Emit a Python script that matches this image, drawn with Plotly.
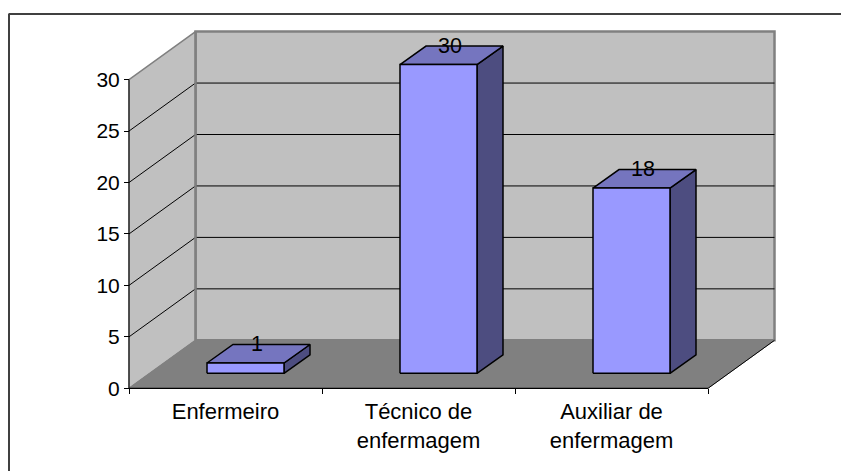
import plotly.graph_objects as go

categories = ["Enfermeiro", "Técnico de<br>enfermagem", "Auxiliar de<br>enfermagem"]
values = [1, 30, 18]
y_ticks = [0, 5, 10, 15, 20, 25, 30]

W, H = 841, 471
# pixel scale of the axes
PX_CAT = 193.0
PX_UNIT = 10.29
X0_PX, Y0_PX = 129.0, 388.3

# oblique projection, expressed in axis units
WALL_DX = 66.5 / PX_CAT
WALL_DY = 48.0 / PX_UNIT
BAR_DX = 26.0 / PX_CAT
BAR_DY = 18.5 / PX_UNIT
BAR_OFF_X = 78.0 / PX_CAT
BAR_OFF_Y = 15.0 / PX_UNIT
BAR_W = 77.0 / PX_CAT

WALL = "#C0C0C0"
FLOOR = "#808080"
FRONT = "#9999FF"
TOP = "#7575BF"
SIDE = "#4D4D80"
FONT = "Liberation Sans, Arial, sans-serif"

fig = go.Figure()


def poly(xs, ys, fill=None, line="black", width=1.0):
    fig.add_trace(go.Scatter(
        x=xs, y=ys, mode="lines",
        fill="toself" if fill else None, fillcolor=fill,
        line=dict(color=line, width=width),
        hoverinfo="skip", showlegend=False))


xmax = len(values)
ymax = max(y_ticks)

# back wall, side wall and floor
poly([WALL_DX, xmax + WALL_DX, xmax + WALL_DX, WALL_DX, WALL_DX],
     [WALL_DY, WALL_DY, ymax + WALL_DY, ymax + WALL_DY, WALL_DY], WALL, FLOOR, 2.5)
poly([0, WALL_DX, WALL_DX, 0, 0], [0, WALL_DY, ymax + WALL_DY, ymax, 0], WALL, FLOOR, 1.5)
poly([0, xmax, xmax + WALL_DX, WALL_DX, 0], [0, 0, WALL_DY, WALL_DY, 0], FLOOR, FLOOR, 1)
poly([xmax, xmax + WALL_DX], [0, WALL_DY], None, "black", 1)

# gridlines across both walls
for t in y_ticks[1:-1]:
    poly([0, WALL_DX, xmax + WALL_DX], [t, t + WALL_DY, t + WALL_DY], None, "black", 1)

# redraw the wall's inner edge above the gridlines
poly([WALL_DX, WALL_DX], [WALL_DY, ymax + WALL_DY], None, FLOOR, 2.5)

# axis lines
poly([0, 0], [0, ymax], None, "black", 1)
poly([0, xmax], [0, 0], None, "black", 1.2)

# bars as oblique boxes
for i, v in enumerate(values):
    x1 = i + BAR_OFF_X
    x2 = x1 + BAR_W
    y1 = BAR_OFF_Y
    y2 = y1 + v
    poly([x2, x2 + BAR_DX, x2 + BAR_DX, x2, x2], [y1, y1 + BAR_DY, y2 + BAR_DY, y2, y1], SIDE, "black", 1.5)
    poly([x1, x1 + BAR_DX, x2 + BAR_DX, x2, x1], [y2, y2 + BAR_DY, y2 + BAR_DY, y2, y2], TOP, "black", 1.5)
    poly([x1, x2, x2, x1, x1], [y1, y1, y2, y2, y1], FRONT, "black", 1.5)

# value labels sit over the bar tops
fig.add_trace(go.Scatter(
    x=[i + BAR_OFF_X + BAR_W / 2 + BAR_DX / 2 - 1.5 / PX_CAT for i in range(len(values))],
    y=[v + BAR_OFF_Y + BAR_DY - 0.1 for v in values],
    mode="text", text=[str(v) for v in values], textposition="middle center",
    textfont=dict(family=FONT, size=21.5, color="black"),
    hoverinfo="skip", showlegend=False))

fig.update_layout(
    width=W, height=H,
    margin=dict(l=0, r=0, t=0, b=0),
    paper_bgcolor="white", plot_bgcolor="white",
    showlegend=False,
    shapes=[
        dict(type="line", xref="paper", yref="paper",
             x0=0 / W + 8.5 / W, x1=1, y0=1 - 14 / H, y1=1 - 14 / H,
             line=dict(color="black", width=1.5), layer="below"),
        dict(type="line", xref="paper", yref="paper",
             x0=9 / W, x1=9 / W, y0=0, y1=1 - 14 / H,
             line=dict(color="#404040", width=2), layer="below"),
    ],
    xaxis=dict(
        range=[-X0_PX / PX_CAT, (W - X0_PX) / PX_CAT],
        domain=[0, 1],
        showgrid=False, zeroline=False, showline=False,
        anchor="free", position=1 - Y0_PX / H,
        tickmode="array", tickvals=[i + 0.5 for i in range(len(values))],
        ticktext=categories, ticks="", ticklen=0, ticklabelstandoff=8,
        tickfont=dict(family=FONT, size=22, color="black"),
        minor=dict(tickmode="array", tickvals=list(range(xmax + 1)),
                   ticks="outside", ticklen=5, tickcolor="black", tickwidth=1, showgrid=False),
    ),
    yaxis=dict(
        range=[-(H - Y0_PX) / PX_UNIT, Y0_PX / PX_UNIT],
        domain=[0, 1],
        showgrid=False, zeroline=False, showline=False,
        anchor="free", position=X0_PX / W,
        tickmode="array", tickvals=y_ticks, ticktext=[str(t) for t in y_ticks],
        ticks="outside", ticklen=5, tickcolor="black", tickwidth=1,
        tickfont=dict(family=FONT, size=21, color="black"),
    ),
)

fig.write_html("out.html", config=dict(displayModeBar=False))
